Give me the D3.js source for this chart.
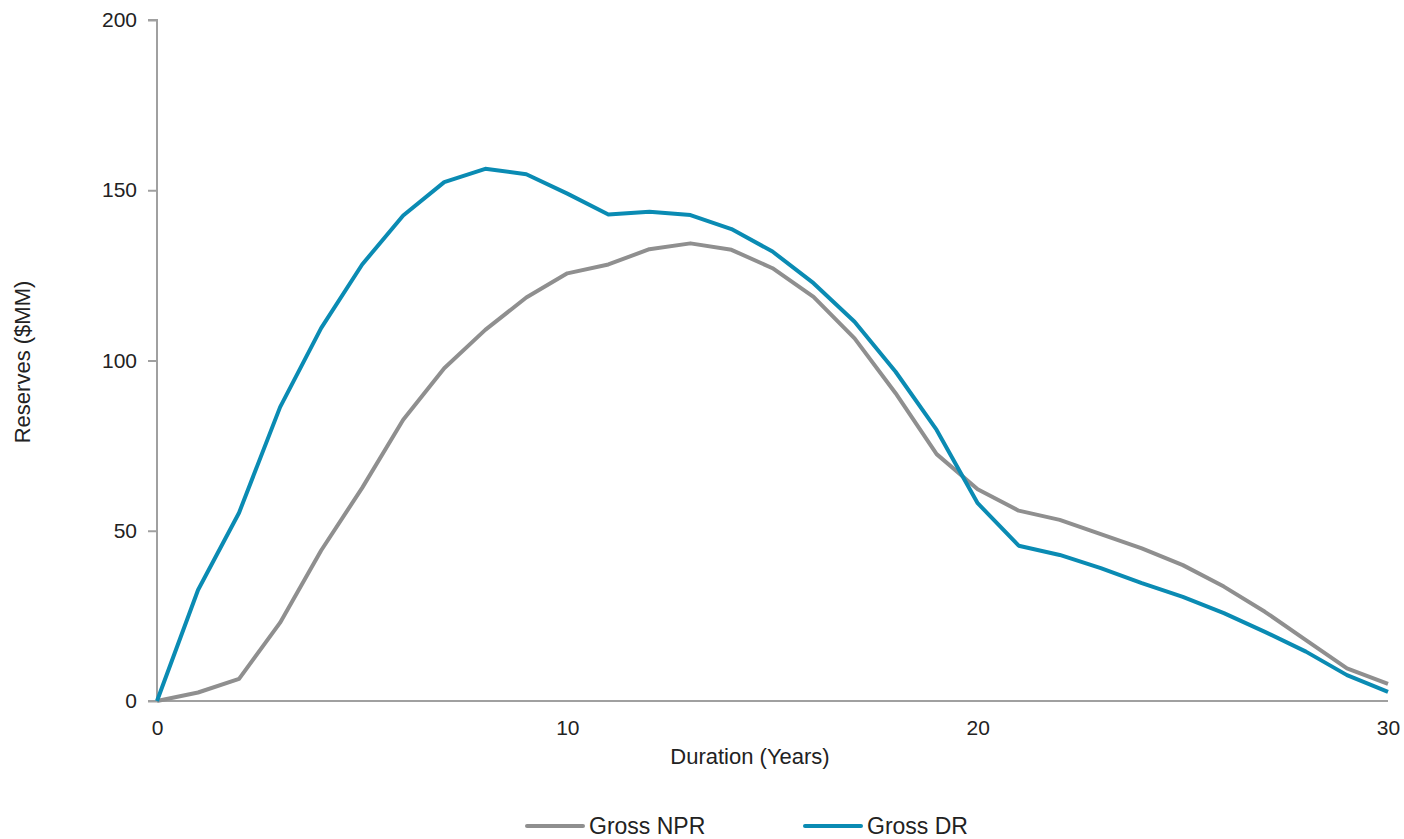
<!DOCTYPE html>
<html><head><meta charset="utf-8">
<script src="https://cdn.jsdelivr.net/npm/d3@7"></script>
<style>body{margin:0;background:#fff;} text{font-family:"Liberation Sans",Arial,sans-serif;fill:#222;}</style>
</head><body><svg id="c" width="1404" height="839"></svg>
<script>
const years = d3.range(0, 31);
const grossNPR = [0,2.5,6.5,23,44.2,62.6,82.6,97.7,109,118.5,125.6,128.2,132.7,134.4,132.5,127.1,118.7,106.5,90.4,72.5,62.2,55.9,53.2,49,44.8,39.9,33.6,26.2,17.9,9.6,5.0];
const grossDR = [0,32.6,55.3,86.3,109.5,128.2,142.6,152.4,156.3,154.7,149,142.9,143.7,142.7,138.6,132,122.7,111.4,96.7,79.6,58.1,45.6,42.9,39,34.6,30.6,25.8,20.3,14.5,7.6,2.7];
const yTicks = [0,50,100,150,200];
const xTicks = [0,10,20,30];
const seriesNames = ["Gross NPR","Gross DR"];
const seriesColors = ["#8f8f8f","#0a8bb3"];

const svg = d3.select("#c");
const x = d3.scaleLinear().domain([0,30]).range([157,1388]);
const y = d3.scaleLinear().domain([0,200]).range([701,20]);

// y axis
const ya = svg.append("g").attr("transform","translate(157,0)")
  .call(d3.axisLeft(y).tickValues(yTicks).tickSize(9).tickPadding(11).tickFormat(d3.format("d")));
ya.select(".domain").attr("stroke","#a0a0a0").attr("stroke-width",2).attr("d","M-9,20H0V701");
ya.selectAll(".tick line").attr("stroke","#a0a0a0").attr("stroke-width",2);
ya.selectAll(".tick text").style("font-size","21px").attr("fill","#222");

// x axis
const xa = svg.append("g").attr("transform","translate(0,701)")
  .call(d3.axisBottom(x).tickValues(xTicks).tickSize(0).tickPadding(19).tickFormat(d3.format("d")));
xa.select(".domain").attr("stroke","#a0a0a0").attr("stroke-width",2).attr("d","M148,0H1388");
xa.selectAll(".tick text").style("font-size","21px").attr("fill","#222");

svg.append("text").attr("x",750).attr("y",764).attr("text-anchor","middle").style("font-size","22px").text("Duration (Years)");
svg.append("text").attr("transform","translate(30,362) rotate(-90)").attr("text-anchor","middle").style("font-size","22px").text("Reserves ($MM)");

const line = d3.line().x((d,i)=>x(years[i])).y(d=>y(d));
[grossNPR, grossDR].forEach((s,k)=>{
  svg.append("path").datum(s).attr("d",line).attr("fill","none")
    .attr("stroke",seriesColors[k]).attr("stroke-width",4).attr("stroke-linejoin","round");
});

// legend
const lx = [527, 805];
seriesNames.forEach((n,k)=>{
  svg.append("line").attr("x1",lx[k]).attr("x2",lx[k]+56).attr("y1",826).attr("y2",826)
    .attr("stroke",seriesColors[k]).attr("stroke-width",4).attr("stroke-linecap","round");
  svg.append("text").attr("x",lx[k]+62).attr("y",834).style("font-size","23px").text(n);
});
</script></body></html>
